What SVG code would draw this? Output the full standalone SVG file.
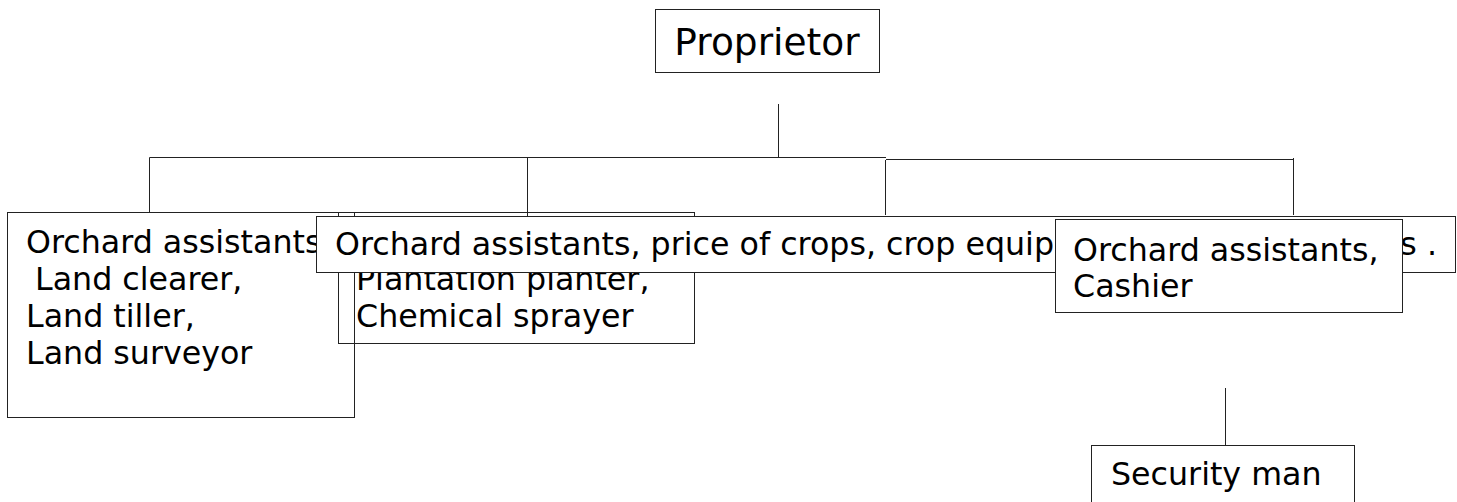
<svg xmlns="http://www.w3.org/2000/svg" width="1457" height="502" viewBox="0 0 1457 502">
<style>
.box{fill:#fff;stroke:#222;stroke-width:1}
.open{fill:none;stroke:#222;stroke-width:1}
.t{font-family:"DejaVu Sans",sans-serif;font-size:31.7px;fill:#000}
.big{font-size:37.5px}
.c{fill:none;stroke:#222;stroke-width:1}
</style>
<rect width="1457" height="502" fill="#fff"/>
<g id="connectors">
<path class="c" d="M778.5 104V158"/>
<path class="c" d="M149.5 212V157.5H886M886 159.5H1294"/>
<path class="c" d="M527.5 157V216"/>
<path class="c" d="M885.5 160V215"/>
<path class="c" d="M1293.5 158V215"/>
<path class="c" d="M1225.5 388V445"/>
</g>
<g id="proprietor">
<rect class="box" x="655.5" y="9.5" width="224" height="63"/>
<text class="t big" x="767" y="55" text-anchor="middle">Proprietor</text>
</g>
<g id="land-staff">
<rect class="box" x="7.5" y="212.5" width="347" height="205"/>
<text class="t" x="26" y="253">Orchard assistants,</text>
<text class="t" x="35" y="290">Land clearer,</text>
<text class="t" x="26" y="327">Land tiller,</text>
<text class="t" x="26" y="364">Land surveyor</text>
</g>
<g id="plantation-staff">
<rect class="open" x="338.5" y="212.5" width="356" height="131"/>
<text class="t" x="356" y="290">Plantation planter,</text>
<text class="t" x="356" y="327">Chemical sprayer</text>
</g>
<g id="sales-staff">
<rect class="box" x="316.5" y="216.5" width="1139" height="56"/>
<text class="t" x="335" y="255">Orchard assistants, price of crops, crop equip</text>
<text class="t" x="1437" y="255" text-anchor="end">s .</text>
</g>
<g id="cashier">
<rect class="box" x="1055.5" y="219.5" width="347" height="93"/>
<text class="t" x="1073" y="261">Orchard assistants,</text>
<text class="t" x="1073" y="297">Cashier</text>
</g>
<g id="security">
<rect class="box" x="1091.5" y="445.5" width="263" height="60"/>
<text class="t" x="1111" y="485">Security man</text>
</g>
</svg>
